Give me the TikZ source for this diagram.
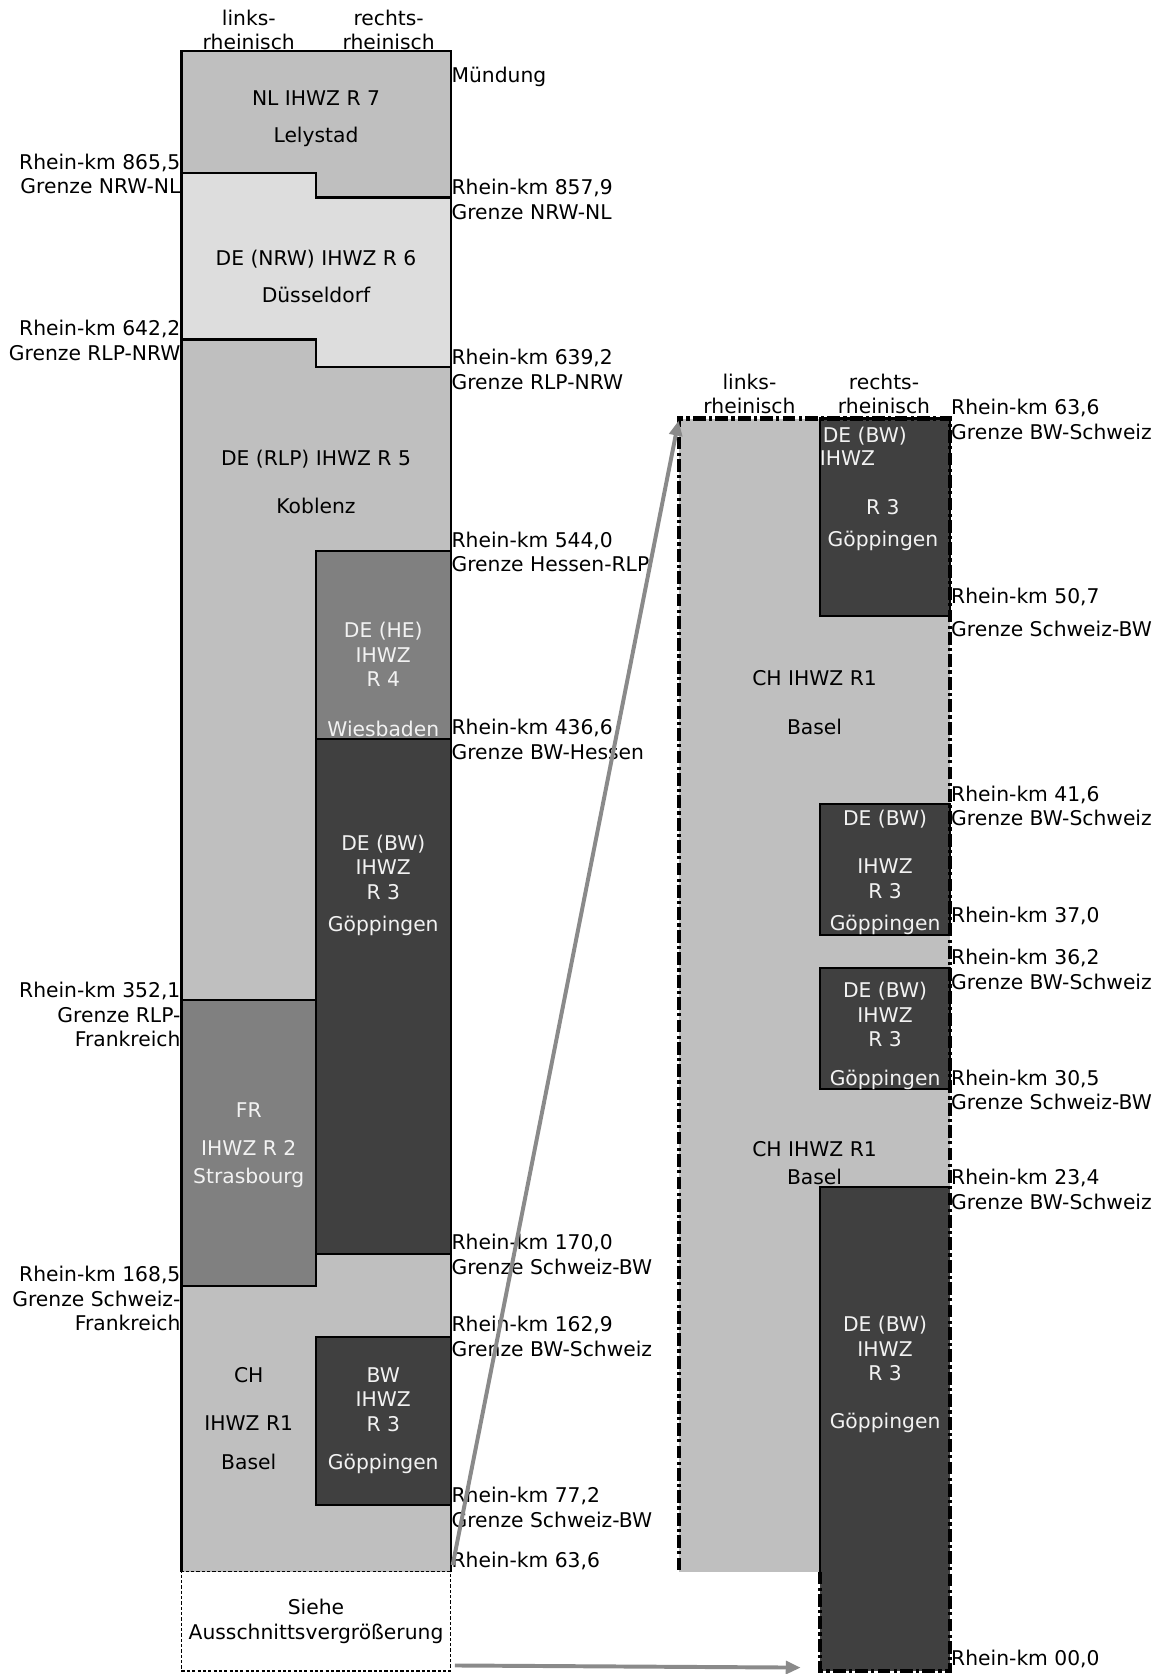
\documentclass[tikz,border=0pt]{standalone}
\usepackage{fontspec}
\setmainfont{DejaVu Sans}
\usetikzlibrary{arrows.meta}
\definecolor{cLight}{HTML}{BFBFBF}
\definecolor{cPale}{HTML}{DDDDDD}
\definecolor{cMid}{HTML}{808080}
\definecolor{cDark}{HTML}{404040}
\definecolor{cArrow}{HTML}{8A8A8A}
\definecolor{cWhite}{HTML}{F2F2F2}
\begin{document}
\begin{tikzpicture}[x=1pt,y=-1pt,
  every node/.style={inner sep=0pt, outer sep=0pt, font=\fontsize{19}{23}\selectfont},
  blk/.style={align=center, anchor=north},
  wtxt/.style={blk, text=cWhite},
  rlab/.style={align=left, anchor=north west},
  llab/.style={align=right, anchor=north east},
  bord/.style={line width=1.9pt, draw=black},
  detdash/.style={line width=4pt, dash pattern=on 12pt off 3pt on 3pt off 3pt},
  conn/.style={line width=3.7pt, draw=cArrow, -{Triangle[length=14pt,width=12pt]}},
]
\useasboundingbox (0,0) rectangle (1090,1568);

% ---------- main column ----------
\fill[cLight] (170,48) rectangle (422,1472);
\fill[cPale] (170,162) -- (296,162) -- (296,185) -- (422,185) -- (422,344) -- (296,344) -- (296,318) -- (170,318) -- cycle;
\filldraw[fill=cMid, bord] (296,516) rectangle (422,692);
\filldraw[fill=cDark, bord] (296,692) rectangle (422,1175);
\filldraw[fill=cMid, bord] (170,937) rectangle (296,1205);
\filldraw[fill=cDark, bord] (296,1252) rectangle (422,1410);
\draw[bord] (170,162) -- (296,162) -- (296,185) -- (422,185);
\draw[bord] (170,318) -- (296,318) -- (296,344) -- (422,344);
\draw[bord] (170,1472) -- (170,48) -- (422,48) -- (422,1472);

\node[draw, line width=1.3pt, dash pattern=on 3pt off 2pt, minimum width=252pt, minimum height=93pt, anchor=north west, align=center] (siehe) at (170,1472) {Siehe\\Ausschnittsvergrößerung};

% headers
\node[blk] (hL) at (233,9) {links-\\rheinisch};
\node[blk] (hR) at (364,9) {rechts-\\rheinisch};

% block texts
\node[blk] (tNL) at (296,85) {NL IHWZ R 7\\[12pt]Lelystad};
\node[blk] (tNRW) at (296,234) {DE (NRW) IHWZ R 6\\[12pt]Düsseldorf};
\node[blk] (tRLP) at (296,422) {DE (RLP) IHWZ R 5\\[22pt]Koblenz};
\node[wtxt] (tHE) at (359,583) {DE (HE)\\IHWZ\\R 4\\[23pt]Wiesbaden};
\node[wtxt] (tBW) at (359,782) {DE (BW)\\IHWZ\\R 3\\[7pt]Göppingen};
\node[wtxt] (tFR) at (233,1033) {FR\\[12pt]IHWZ R 2\\[4pt]Strasbourg};
\node[blk] (tCH) at (233,1281) {CH\\[22pt]IHWZ R1\\[13pt]Basel};
\node[wtxt] (tBWs) at (359,1281) {BW\\IHWZ\\R 3\\[13pt]Göppingen};

% right labels (main)
\node[rlab] (rM) at (423,63) {Mündung};
\node[rlab] (r1) at (423,168) {Rhein-km 857,9\\Grenze NRW-NL};
\node[rlab] (r2) at (423,327) {Rhein-km 639,2\\Grenze RLP-NRW};
\node[rlab] (r3) at (423,498) {Rhein-km 544,0\\Grenze Hessen-RLP};
\node[rlab] (r4) at (423,674) {Rhein-km 436,6\\Grenze BW-Hessen};
\node[rlab] (r5) at (423,1156) {Rhein-km 170,0\\Grenze Schweiz-BW};
\node[rlab] (r6) at (423,1233) {Rhein-km 162,9\\Grenze BW-Schweiz};
\node[rlab] (r7) at (423,1393) {Rhein-km 77,2\\Grenze Schweiz-BW};
\node[rlab] (r8) at (423,1454) {Rhein-km 63,6};

% left labels (main)
\node[llab] (l1) at (169,144) {Rhein-km 865,5\\Grenze NRW-NL};
\node[llab] (l2) at (169,300) {Rhein-km 642,2\\Grenze RLP-NRW};
\node[llab] (l3) at (169,920) {Rhein-km 352,1\\Grenze RLP-\\Frankreich};
\node[llab] (l4) at (169,1186) {Rhein-km 168,5\\Grenze Schweiz-\\Frankreich};

% ---------- detail ----------
\fill[cLight] (636,392) rectangle (890,1472);
\filldraw[fill=cDark, bord] (768,392) rectangle (890,577);
\filldraw[fill=cDark, bord] (768,753) rectangle (890,876);
\filldraw[fill=cDark, bord] (768,907) rectangle (890,1020);
\fill[cDark] (768,1112) rectangle (890,1565);
\draw[bord] (768,1472) -- (768,1112) -- (890,1112);
\draw[detdash] (768,1472) -- (768,1565) -- (890,1565) -- (890,392) -- (636,392) -- (636,1472);
\coordinate (detTL) at (636,392);
\coordinate (detIn) at (750,1562);

\node[blk] (dhL) at (702,350) {links-\\rheinisch};
\node[blk] (dhR) at (828,350) {rechts-\\rheinisch};

\node[wtxt] (d1a) at (810,400) {DE (BW)};
\node[anchor=north west, text=cWhite] (d1b) at (768,422) {IHWZ};
\node[wtxt] (d1c) at (827,468) {R 3\\[7pt]Göppingen};
\node[blk] (dCH1) at (763,628) {CH IHWZ R1\\[23pt]Basel};
\node[wtxt] (d2) at (829,759) {DE (BW)\\[22pt]IHWZ\\R 3\\[7pt]Göppingen};
\node[wtxt] (d3) at (829,920) {DE (BW)\\IHWZ\\R 3\\[13pt]Göppingen};
\node[blk] (dCH2) at (763,1069) {CH IHWZ R1\\[3pt]Basel};
\node[wtxt] (d4) at (829,1233) {DE (BW)\\IHWZ\\R 3\\[22pt]Göppingen};

\node[rlab] (dr1) at (891,374) {Rhein-km 63,6\\Grenze BW-Schweiz};
\node[rlab] (dr2) at (891,551) {Rhein-km 50,7\\[8pt]Grenze Schweiz-BW};
\node[rlab] (dr3) at (891,736) {Rhein-km 41,6\\Grenze BW-Schweiz};
\node[rlab] (dr4) at (891,850) {Rhein-km 37,0};
\node[rlab] (dr5) at (891,889) {Rhein-km 36,2\\Grenze BW-Schweiz};
\node[rlab] (dr6) at (891,1002) {Rhein-km 30,5\\Grenze Schweiz-BW};
\node[rlab] (dr7) at (891,1095) {Rhein-km 23,4\\Grenze BW-Schweiz};
\node[rlab] (dr8) at (891,1546) {Rhein-km 00,0};

% ---------- connectors ----------
\draw[conn, shorten >=2pt] ([shift={(2pt,6pt)}]siehe.north east) -- (detTL);
\draw[conn] ([shift={(4pt,5pt)}]siehe.south east) -- (detIn);
\end{tikzpicture}
\end{document}
